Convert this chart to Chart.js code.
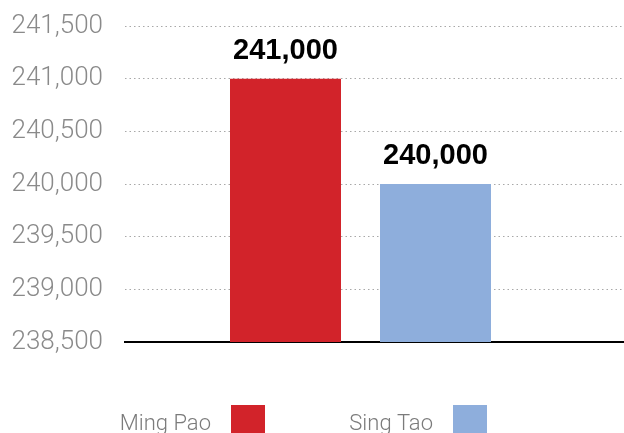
<!DOCTYPE html>
<html>
<head>
<meta charset="utf-8">
<script src="https://cdn.jsdelivr.net/npm/chart.js@4/dist/chart.umd.min.js"></script>
<style>
  html, body { margin: 0; padding: 0; background: #ffffff; }
  #wrap { width: 624px; height: 433px; position: relative; }
</style>
</head>
<body>
<div id="wrap"><canvas id="c"></canvas></div>
<script>
// ---- data ----
const categories = ['Ming Pao', 'Sing Tao'];
const circulation = [241000, 240000];
const barColors = ['#d2232a', '#8eaedc'];
const yTickValues = [238500, 239000, 239500, 240000, 240500, 241000, 241500];

const fmt = v => v.toLocaleString('en-US');

const valueLabels = {
  id: 'valueLabels',
  afterDatasetsDraw(chart) {
    const ctx = chart.ctx;
    const meta = chart.getDatasetMeta(0);
    ctx.save();
    ctx.font = 'bold 29px "Liberation Sans", Arial, sans-serif';
    ctx.fillStyle = '#000000';
    ctx.textAlign = 'center';
    ctx.textBaseline = 'alphabetic';
    meta.data.forEach((el, i) => {
      ctx.fillText(fmt(circulation[i]), el.x, el.y - 20);
    });
    ctx.restore();
  }
};

const bottomLegend = {
  id: 'bottomLegend',
  afterDraw(chart, args, opts) {
    const ctx = chart.ctx;
    ctx.save();
    ctx.font = '300 22px Roboto, "Liberation Sans", sans-serif';
    ctx.textAlign = 'right';
    ctx.textBaseline = 'alphabetic';
    categories.forEach((name, i) => {
      const bx = opts.boxLeft[i];
      ctx.fillStyle = '#7b7b7b';
      ctx.fillText(name, bx - opts.gap, opts.baseline);
      ctx.fillStyle = barColors[i];
      ctx.fillRect(bx, opts.boxTop, opts.box, opts.box);
    });
    ctx.restore();
  }
};

new Chart(document.getElementById('c'), {
  type: 'bar',
  data: {
    datasets: [{
      label: 'Circulation',
      data: circulation.map((v, i) => ({ x: i + 1, y: v })),
      backgroundColor: barColors,
      borderWidth: 0,
      categoryPercentage: 1,
      barPercentage: 0.74
    }]
  },
  options: {
    responsive: true,
    maintainAspectRatio: false,
    animation: false,
    layout: { padding: { top: 26, bottom: 91, left: 0, right: 0 } },
    plugins: {
      legend: { display: false },
      tooltip: { enabled: false },
      bottomLegend: { boxLeft: [231, 453], box: 34, boxTop: 405, gap: 20, baseline: 430 }
    },
    scales: {
      x: {
        type: 'linear',
        min: -0.07,
        max: 3.2567,
        offset: false,
        z: 1,
        afterBuildTicks(s) { s.ticks = circulation.map((v, i) => ({ value: i + 1 })); },
        ticks: { display: false },
        grid: { display: false, drawTicks: false },
        border: { display: true, color: '#000000', width: 2 },
        afterFit(s) { s.height = 0; s.paddingLeft = 0; s.paddingRight = 0; }
      },
      y: {
        min: yTickValues[0],
        max: yTickValues[yTickValues.length - 1],
        afterBuildTicks(s) { s.ticks = yTickValues.map(v => ({ value: v })); },
        afterFit(s) { s.width = 125; s.paddingTop = 10; s.paddingBottom = 10; },
        ticks: {
          padding: 22,
          color: '#8a8a8a',
          font: { family: 'Roboto, "Liberation Sans", sans-serif', size: 26, weight: '300' },
          callback: v => fmt(v)
        },
        grid: { color: '#a8a8a8', lineWidth: 1, drawTicks: false, borderDash: [1.5, 3] },
        border: { display: false, dash: [1.5, 3] }
      }
    }
  },
  plugins: [valueLabels, bottomLegend]
});
</script>
</body>
</html>
